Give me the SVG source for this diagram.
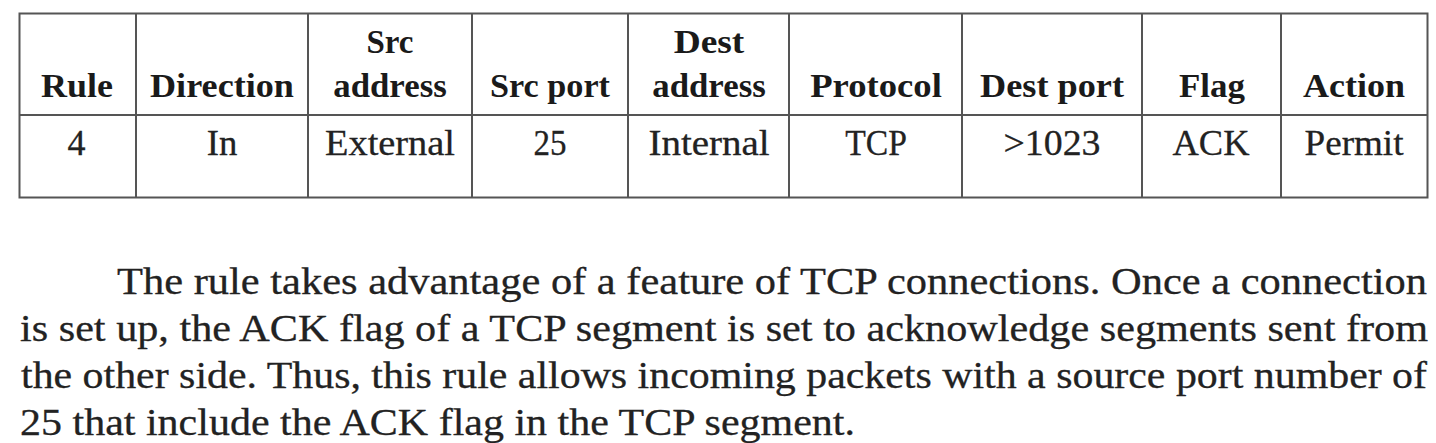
<svg xmlns="http://www.w3.org/2000/svg" width="1436" height="443" viewBox="0 0 1436 443">
<style>
.grid{stroke:#555;stroke-width:2;fill:none}
.h{font-weight:bold;font-size:34px;fill:#1a1a1a;text-anchor:middle}
.c{font-size:36px;fill:#222;text-anchor:middle;stroke:#222;stroke-width:0.3}
.p{font-size:38px;fill:#222;stroke:#222;stroke-width:0.3}
</style>
<rect width="1436" height="443" fill="#fff"/>
<g id="table">
<rect class="grid" x="19.5" y="13.5" width="1408" height="184"/>
<path class="grid" d="M19.5 115H1427.5M136 13.5V197.5M308 13.5V197.5M472 13.5V197.5M628 13.5V197.5M789 13.5V197.5M962 13.5V197.5M1142 13.5V197.5M1281 13.5V197.5"/>
</g>
<g id="header" font-family="Liberation Serif, serif">
<text class="h" x="77" y="97" textLength="72" lengthAdjust="spacingAndGlyphs">Rule</text>
<text class="h" x="222" y="97" textLength="144" lengthAdjust="spacingAndGlyphs">Direction</text>
<text class="h" x="390" y="53" textLength="47" lengthAdjust="spacingAndGlyphs">Src</text>
<text class="h" x="390" y="97" textLength="113.5" lengthAdjust="spacingAndGlyphs">address</text>
<text class="h" x="550" y="97" textLength="120" lengthAdjust="spacingAndGlyphs">Src port</text>
<text class="h" x="709" y="53" textLength="70.7" lengthAdjust="spacingAndGlyphs">Dest</text>
<text class="h" x="709" y="97" textLength="113.5" lengthAdjust="spacingAndGlyphs">address</text>
<text class="h" x="876" y="97" textLength="131.7" lengthAdjust="spacingAndGlyphs">Protocol</text>
<text class="h" x="1052" y="97" textLength="144" lengthAdjust="spacingAndGlyphs">Dest port</text>
<text class="h" x="1212" y="97" textLength="66" lengthAdjust="spacingAndGlyphs">Flag</text>
<text class="h" x="1354" y="97" textLength="102" lengthAdjust="spacingAndGlyphs">Action</text>
</g>
<g id="row" font-family="Liberation Serif, serif">
<text class="c" x="76.5" y="155">4</text>
<text class="c" x="222" y="155" textLength="30.6" lengthAdjust="spacingAndGlyphs">In</text>
<text class="c" x="390" y="155" textLength="130" lengthAdjust="spacingAndGlyphs">External</text>
<text class="c" x="550" y="155" textLength="33" lengthAdjust="spacingAndGlyphs">25</text>
<text class="c" x="709" y="155" textLength="121" lengthAdjust="spacingAndGlyphs">Internal</text>
<text class="c" x="876" y="155" textLength="61.7" lengthAdjust="spacingAndGlyphs">TCP</text>
<text class="c" x="1052" y="155" textLength="97" lengthAdjust="spacingAndGlyphs">&gt;1023</text>
<text class="c" x="1211" y="155" textLength="77" lengthAdjust="spacingAndGlyphs">ACK</text>
<text class="c" x="1354" y="155" textLength="99" lengthAdjust="spacingAndGlyphs">Permit</text>
</g>
<g id="paragraph" font-family="Liberation Serif, serif">
<text class="p" x="117" y="294" textLength="1310" lengthAdjust="spacingAndGlyphs">The rule takes advantage of a feature of TCP connections. Once a connection</text>
<text class="p" x="20" y="341" textLength="1408" lengthAdjust="spacingAndGlyphs">is set up, the ACK flag of a TCP segment is set to acknowledge segments sent from</text>
<text class="p" x="21" y="388" textLength="1406" lengthAdjust="spacingAndGlyphs">the other side. Thus, this rule allows incoming packets with a source port number of</text>
<text class="p" x="20" y="435" textLength="835" lengthAdjust="spacingAndGlyphs">25 that include the ACK flag in the TCP segment.</text>
</g>
</svg>
